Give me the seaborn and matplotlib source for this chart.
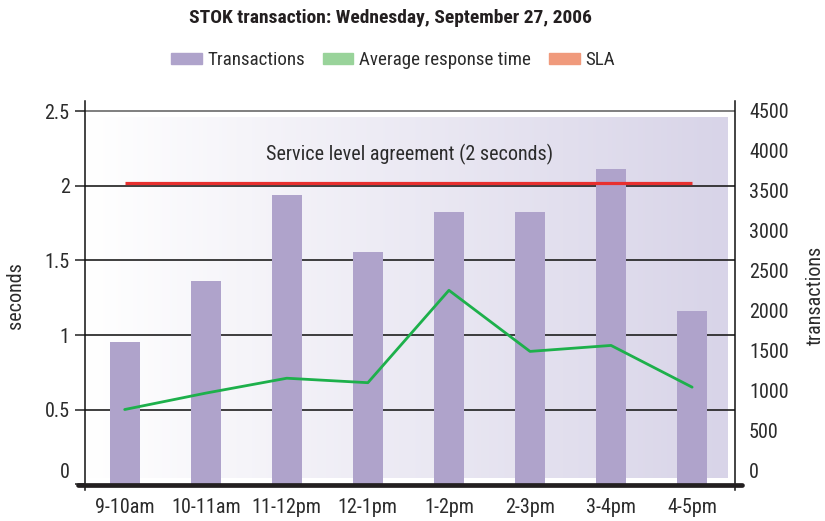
import numpy as np
import matplotlib
matplotlib.use("Agg")
import matplotlib.pyplot as plt
import matplotlib.transforms as mtrans
import seaborn as sns
from matplotlib.patches import Patch
from matplotlib.lines import Line2D
from matplotlib.colors import LinearSegmentedColormap

# ---- data ----
hours = ["9-10am", "10-11am", "11-12pm", "12-1pm", "1-2pm", "2-3pm", "3-4pm", "4-5pm"]
transactions = [1710, 2450, 3490, 2800, 3280, 3280, 3810, 2090]
response_time = [0.50, 0.61, 0.71, 0.68, 1.30, 0.89, 0.93, 0.65]
sla_seconds = 2.0
left_ticks = [0, 0.5, 1, 1.5, 2, 2.5]
left_labels = ["0", "0.5", "1", "1.5", "2", "2.5"]
right_ticks = [0, 500, 1000, 1500, 2000, 2500, 3000, 3500, 4000, 4500]
right_labels = [str(v) for v in right_ticks]
title = "STOK transaction: Wednesday, September 27, 2006"
legend_labels = ["Transactions", "Average response time", "SLA"]

# ---- style ----
sns.set_theme(style="white")
plt.rcParams["font.family"] = ["Liberation Sans Narrow", "Roboto Condensed",
                               "Roboto", "DejaVu Sans"]
plt.rcParams["font.stretch"] = "condensed"
TXT = "#2b2b2b"
BAR = "#afa3cb"
LINE = "#1db04b"
RED = "#e8302f"
FS = 14.5

fig = plt.figure(figsize=(8.25, 5.21), dpi=100)
ax = fig.add_axes([0.103, 0.0595, 0.788, 0.7466])
ax.patch.set_visible(False)

Y0, Y1 = -0.04, 2.57
SCALE = 4500 / 2.5
XL = (-0.49, 7.53)

# gradient background panel
cmap = LinearSegmentedColormap.from_list("bg", ["#ffffff", "#d8d4e8"])
grad = np.linspace(0, 1, 256).reshape(1, -1)
ax.imshow(grad, cmap=cmap, aspect="auto", extent=[-0.46, 7.44, 0.04, 2.46],
          zorder=0, interpolation="bicubic")

# gridlines
for v in left_ticks[1:]:
    ax.axhline(v, color="#6a6a6a" if v == 2.5 else "#1e1e1e", lw=1.2, zorder=1)

ax.set_ylim(Y0, Y1)
ax.set_yticks(left_ticks, left_labels)
ax.tick_params(axis="y", which="both", left=True, right=True, direction="out",
               length=7, width=1.1, color="#222", labelsize=FS, labelcolor=TXT, pad=4)
ax.set_ylabel("seconds", fontsize=FS, color=TXT, labelpad=14)
for s in ["top", "bottom"]:
    ax.spines[s].set_visible(False)
for s in ["left", "right"]:
    ax.spines[s].set_color("#111")
    ax.spines[s].set_linewidth(1.1)

# ---- bars on transactions axis ----
ax2 = ax.twinx()
sns.barplot(x=hours, y=transactions, ax=ax2, color=BAR, width=0.37,
            saturation=1, linewidth=0, edgecolor="none", zorder=2)
ax2.set_ylim(Y0 * SCALE, Y1 * SCALE)
ax2.set_yticks(right_ticks, right_labels)
ax2.tick_params(axis="y", length=0, labelsize=FS, labelcolor=TXT, pad=10)
ax2.set_ylabel("transactions", fontsize=FS, color=TXT, labelpad=12)
for s in ax2.spines.values():
    s.set_visible(False)

# ---- line + SLA on top ----
ax3 = ax.twinx()
sns.pointplot(x=hours, y=response_time, ax=ax3, color=LINE, markers="none",
              linewidth=2.0)
ax3.set_ylim(Y0, Y1)
off = mtrans.ScaledTranslation(0, 2.5 / 100, fig.dpi_scale_trans)
ax3.hlines(sla_seconds, 0, len(hours) - 1, color=RED, lw=2.3, zorder=5,
           transform=ax3.transData + off)
ax3.text(3.52, 2.21, "Service level agreement (2 seconds)", ha="center",
         va="center", fontsize=FS, color=TXT)
ax3.add_line(Line2D([-0.01, 1.01], [-0.008, -0.008], transform=ax3.get_yaxis_transform(),
                    color="#231f20", lw=3.4, clip_on=False, zorder=6))
ax3.axis("off")

ax.set_xlim(*XL)
ax.set_xticks(range(len(hours)), hours)
ax.tick_params(axis="x", length=0, labelsize=FS, labelcolor=TXT, pad=6)
ax.set_xlabel("")

# nudge tick labels to where the reference prints them
lt = ax.yaxis.get_major_ticks()
lt[0].label1.set_transform(lt[0].label1.get_transform() +
                           mtrans.ScaledTranslation(0, 14 / 100, fig.dpi_scale_trans))
rt = ax2.yaxis.get_major_ticks()
for k, t in enumerate(rt):
    dy = (14 - 1.44 * k) / 100
    t.label2.set_transform(t.label2.get_transform() +
                           mtrans.ScaledTranslation(0, dy, fig.dpi_scale_trans))

# title & legend
fig.text(390 / 825, 1 - 18 / 521, title, ha="center", va="center",
         fontsize=14, fontweight="bold", color="#231f20")
handles = [Patch(color=BAR), Patch(color="#99d39a"), Patch(color="#f09a7c")]
fig.legend(handles, legend_labels, loc="center", bbox_to_anchor=(393 / 825, 1 - 60 / 521),
           ncol=3, frameon=False, fontsize=13.7, handlelength=1.6, handleheight=0.55,
           columnspacing=0.95, handletextpad=0.3, labelcolor=TXT)

fig.savefig("out.png", dpi=100)
